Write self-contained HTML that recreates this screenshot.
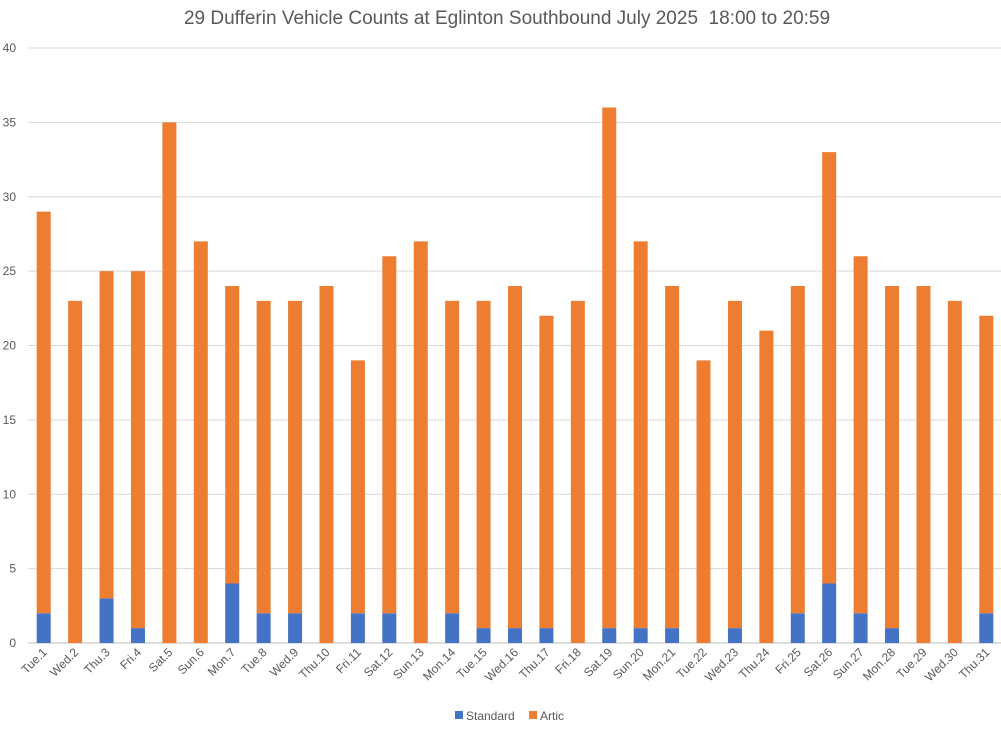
<!DOCTYPE html>
<html><head><meta charset="utf-8"><style>
body{margin:0;background:#fff;font-family:"Liberation Sans",Arial,sans-serif;}
svg text{font-family:"Liberation Sans",Arial,sans-serif;fill:#595959;}
</style></head><body>
<svg id="chart" width="1001" height="729" viewBox="0 0 1001 729" xmlns="http://www.w3.org/2000/svg">
<rect width="1001" height="729" fill="#fff"/>
<text x="507" y="24" font-size="19" text-anchor="middle" xml:space="preserve" style="white-space:pre">29 Dufferin Vehicle Counts at Eglinton Southbound July 2025  18:00 to 20:59</text>
<g id="grid"></g><g id="bars"></g><g id="xlabels"></g><g id="ylabels"></g>
<g>
<rect x="455" y="711" width="8" height="8" fill="#4472c4"/>
<text x="466" y="720" font-size="12">Standard</text>
<rect x="529" y="711" width="8" height="8" fill="#ed7d31"/>
<text x="540" y="720" font-size="12">Artic</text>
</g>
</svg>
<script>
const categories=["Tue.1","Wed.2","Thu.3","Fri.4","Sat.5","Sun.6","Mon.7","Tue.8","Wed.9","Thu.10","Fri.11","Sat.12","Sun.13","Mon.14","Tue.15","Wed.16","Thu.17","Fri.18","Sat.19","Sun.20","Mon.21","Tue.22","Wed.23","Thu.24","Fri.25","Sat.26","Sun.27","Mon.28","Tue.29","Wed.30","Thu.31"];
const standard=[2,0,3,1,0,0,4,2,2,0,2,2,0,2,1,1,1,0,1,1,1,0,1,0,2,4,2,1,0,0,2];
const artic=[27,23,22,24,35,27,20,21,21,24,17,24,27,21,22,23,21,23,35,26,23,19,22,21,22,29,24,23,24,23,20];
const yTicks=[0,5,10,15,20,25,30,35,40];
const NS="http://www.w3.org/2000/svg";
const x0=28,x1=1002,y0=643,y1=48,yMax=40;
const bw=(x1-x0)/categories.length;
const y=v=>y0-(v/yMax)*(y0-y1);
const xc=i=>x0+bw*(i+0.5);
function mk(t,a,p){const e=document.createElementNS(NS,t);for(const k in a)e.setAttribute(k,a[k]);p.appendChild(e);return e;}
const grid=document.getElementById('grid'),bars=document.getElementById('bars'),xl=document.getElementById('xlabels'),yl=document.getElementById('ylabels');
yTicks.forEach(t=>{
 const l=mk('line',{x1:x0,x2:x1,y1:y(t),y2:y(t),stroke:t===0?'#bfbfbf':'#d9d9d9','stroke-width':1},grid);
 
 
 const tx=mk('text',{x:16,y:y(t)+4,'font-size':12,'text-anchor':'end'},yl);
 tx.textContent=t;
 
 
});
categories.forEach((c,i)=>{
 const w=14,cx=xc(i);
 if(standard[i]>0){
  const r=mk('rect',{x:cx-w/2,y:y(standard[i]),width:w,height:y0-y(standard[i]),fill:'#4472c4'},bars);
  
  
 }
 const r2=mk('rect',{x:cx-w/2,y:y(standard[i]+artic[i]),width:w,height:y(standard[i])-y(standard[i]+artic[i]),fill:'#ed7d31'},bars);
 
 
 const t=mk('text',{x:cx+4,y:y0+10,'font-size':12,'text-anchor':'end',transform:`rotate(-45 ${cx+4} ${y0+10})`},xl);
 t.textContent=c;
 
 
});
</script>
</body></html>
